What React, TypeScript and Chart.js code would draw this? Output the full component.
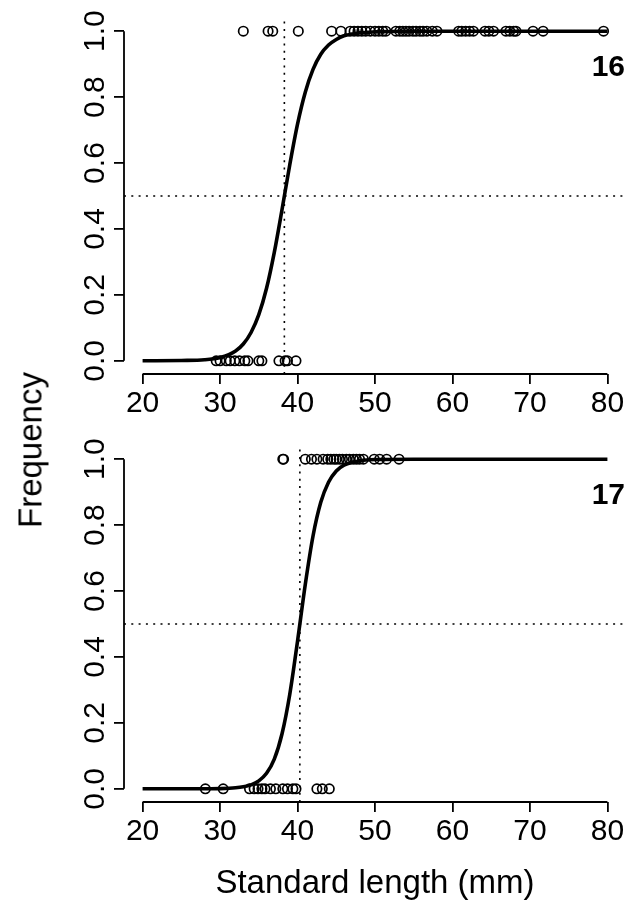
import React, { useEffect, useRef } from "react";
import { Chart, registerables } from "chart.js";

Chart.register(...registerables);

const FONT = "'Liberation Sans', Arial, Helvetica, sans-serif";

// Axis ticks
const xTicks = [20, 30, 40, 50, 60, 70, 80];
const yTicks = [0, 0.2, 0.4, 0.6, 0.8, 1.0];
const yTickLabels = ["0.0", "0.2", "0.4", "0.6", "0.8", "1.0"];
const xRange = [17.6, 82.4];
const yRange = [-0.04, 1.04];

const xTitle = "Standard length (mm)";
const yTitle = "Frequency";

// Panel 16
const p16Label = "16";
const p16L50 = 38.3;
const p16Mature = [
  33.0, 36.2, 36.8, 40.1, 44.4, 45.6, 46.8, 47.3, 47.8, 48.3, 48.8, 49.4, 50.0,
  50.5, 51.0, 51.4, 52.7, 53.2, 53.6, 54.0, 54.4, 54.9, 55.3, 55.8, 56.2, 56.7,
  57.4, 58.0, 60.8, 61.2, 61.7, 62.2, 62.7, 64.2, 64.7, 65.3, 66.9, 67.4, 67.9,
  68.2, 70.4, 71.7, 79.5,
];
const p16Immature = [
  29.5, 30.0, 30.8, 31.3, 31.9, 32.5, 33.2, 33.6, 35.0, 35.4, 37.6, 38.4, 38.7,
  39.8,
];
const p16CurveX = [20, 25, 28, 30, 32, 33, 34, 35, 36, 37, 38, 39, 40, 41, 42, 43, 44, 45, 46, 48, 50, 55, 80];
const p16CurveY = [0, 0.001, 0.003, 0.01, 0.03, 0.051, 0.086, 0.14, 0.22, 0.329, 0.459, 0.595, 0.718, 0.815, 0.884, 0.93, 0.958, 0.975, 0.986, 0.995, 0.998, 1, 1];

// Panel 17
const p17Label = "17";
const p17L50 = 40.3;
const p17Mature = [
  38.1, 38.2, 41.0, 41.8, 42.5, 43.3, 43.9, 44.3, 44.7, 45.0, 45.4, 45.8, 46.3,
  46.7, 47.2, 47.6, 48.0, 48.5, 49.9, 50.6, 51.5, 53.1,
];
const p17Immature = [
  28.1, 30.4, 33.8, 34.4, 34.9, 35.4, 35.8, 36.5, 37.2, 38.1, 38.7, 39.4, 39.8,
  42.5, 43.2, 44.1,
];
const p17CurveX = [20, 28, 30, 32, 33, 34, 35, 36, 37, 38, 39, 40, 41, 42, 43, 44, 45, 46, 48, 50, 55, 80];
const p17CurveY = [0, 0.0002, 0.0007, 0.003, 0.006, 0.012, 0.024, 0.047, 0.09, 0.167, 0.287, 0.448, 0.62, 0.767, 0.869, 0.93, 0.964, 0.982, 0.995, 0.999, 1, 1];

type PanelProps = {
  label: string;
  l50: number;
  mature: number[];
  immature: number[];
  curveX: number[];
  curveY: number[];
  top: number;
  height: number;
  xAxisHeight: number;
  showTitle: boolean;
};

const axisPlugin = {
  id: "rAxes",
  afterDraw(chart: any, _args: any, opts: any) {
    const ctx = chart.ctx;
    const xs = chart.scales.x;
    const ys = chart.scales.y;
    const area = chart.chartArea;
    ctx.save();
    ctx.strokeStyle = "#000";
    ctx.lineWidth = 1.8;
    ctx.lineCap = "butt";
    ctx.beginPath();
    ctx.moveTo(xs.getPixelForValue(xTicks[0]), area.bottom);
    ctx.lineTo(xs.getPixelForValue(xTicks[xTicks.length - 1]), area.bottom);
    ctx.moveTo(area.left, ys.getPixelForValue(yTicks[0]));
    ctx.lineTo(area.left, ys.getPixelForValue(yTicks[yTicks.length - 1]));
    ctx.stroke();
    // y tick labels (rotated, as in R)
    ctx.fillStyle = "#000";
    ctx.font = `30px ${FONT}`;
    ctx.textAlign = "center";
    ctx.textBaseline = "middle";
    yTicks.forEach((v, i) => {
      const py = ys.getPixelForValue(v);
      ctx.save();
      ctx.translate(96, py);
      ctx.rotate(-Math.PI / 2);
      ctx.fillText(yTickLabels[i], 0, 0);
      ctx.restore();
    });
    // panel label
    ctx.font = `bold 30px ${FONT}`;
    ctx.textAlign = "right";
    ctx.textBaseline = "middle";
    ctx.fillText(opts.label, area.right - 1, ys.getPixelForValue(0.89));
    ctx.restore();
  },
};

function Panel(p: PanelProps) {
  const ref = useRef<HTMLCanvasElement | null>(null);
  useEffect(() => {
    if (!ref.current) return;
    const circle = {
      pointStyle: "circle",
      pointRadius: 4.7,
      pointBorderWidth: 1.7,
      borderColor: "#000",
      pointBorderColor: "#000",
      backgroundColor: "rgba(0,0,0,0)",
      pointBackgroundColor: "rgba(0,0,0,0)",
      showLine: false,
    };
    const dotted = {
      type: "line",
      borderColor: "#000",
      borderWidth: 1.6,
      borderDash: [2, 5.3],
      pointRadius: 0,
      fill: false,
    };
    const chart = new Chart(ref.current, {
      type: "scatter",
      data: {
        datasets: [
          {
            type: "line",
            label: "curve",
            data: p.curveX.map((x, i) => ({ x, y: p.curveY[i] })),
            borderColor: "#000",
            borderWidth: 3.6,
            pointRadius: 0,
            fill: false,
            cubicInterpolationMode: "monotone",
          },
          { label: "mature", data: p.mature.map((x) => ({ x, y: 1 })), ...circle },
          { label: "immature", data: p.immature.map((x) => ({ x, y: 0 })), ...circle },
          {
            label: "L50",
            data: [
              { x: p.l50, y: yRange[0] },
              { x: p.l50, y: yRange[1] },
            ],
            ...dotted,
          },
          {
            label: "half",
            data: [
              { x: xRange[0], y: 0.5 },
              { x: xRange[1], y: 0.5 },
            ],
            ...dotted,
          },
        ],
      } as any,
      options: {
        animation: false,
        responsive: false,
        maintainAspectRatio: false,
        events: [],
        layout: { padding: { top: 18, right: 7, left: 0, bottom: 0 } },
        plugins: {
          legend: { display: false },
          tooltip: { enabled: false },
          rAxes: { label: p.label },
        } as any,
        scales: {
          x: {
            type: "linear",
            position: "bottom",
            min: xRange[0],
            max: xRange[1],
            afterBuildTicks: (a: any) => {
              a.ticks = xTicks.map((v) => ({ value: v }));
            },
            afterFit: (s: any) => {
              s.height = p.xAxisHeight;
            },
            grid: {
              display: true,
              drawOnChartArea: false,
              drawTicks: true,
              tickLength: 10,
              lineWidth: 1.8,
              color: "#000",
            },
            border: { display: false },
            ticks: {
              font: { family: FONT, size: 30 },
              color: "#000",
              padding: 2,
              maxRotation: 0,
              minRotation: 0,
              autoSkip: false,
              callback: (v: any) => String(v),
            },
            title: {
              display: p.showTitle,
              text: xTitle,
              font: { family: FONT, size: 33 },
              color: "#000",
              padding: { top: 0, bottom: -3 },
            },
          },
          y: {
            type: "linear",
            min: yRange[0],
            max: yRange[1],
            afterBuildTicks: (a: any) => {
              a.ticks = yTicks.map((v) => ({ value: v }));
            },
            afterFit: (s: any) => {
              s.width = 124;
            },
            grid: {
              display: true,
              drawOnChartArea: false,
              drawTicks: true,
              tickLength: 10,
              lineWidth: 1.8,
              color: "#000",
            },
            border: { display: false },
            ticks: { display: false },
          },
        },
      } as any,
      plugins: [axisPlugin],
    });
    return () => chart.destroy();
  }, []);
  return (
    <canvas
      ref={ref}
      width={633}
      height={p.height}
      style={{ position: "absolute", left: 0, top: p.top, width: 633, height: p.height, display: "block" }}
    />
  );
}

export default function App() {
  return (
    <div style={{ position: "absolute", left: 0, top: 0, width: 633, height: 901, background: "#fff", overflow: "hidden" }}>
      <Panel
        label={p16Label}
        l50={p16L50}
        mature={p16Mature}
        immature={p16Immature}
        curveX={p16CurveX}
        curveY={p16CurveY}
        top={0}
        height={428}
        xAxisHeight={54}
        showTitle={false}
      />
      <Panel
        label={p17Label}
        l50={p17L50}
        mature={p17Mature}
        immature={p17Immature}
        curveX={p17CurveX}
        curveY={p17CurveY}
        top={428}
        height={473}
        xAxisHeight={99}
        showTitle={true}
      />
      <div
        style={{
          position: "absolute",
          left: 30,
          top: 450,
          transform: "translate(-50%, -50%) rotate(-90deg)",
          fontFamily: FONT,
          fontSize: 33,
          lineHeight: 1,
          whiteSpace: "nowrap",
          color: "#000",
        }}
      >
        {yTitle}
      </div>
    </div>
  );
}
